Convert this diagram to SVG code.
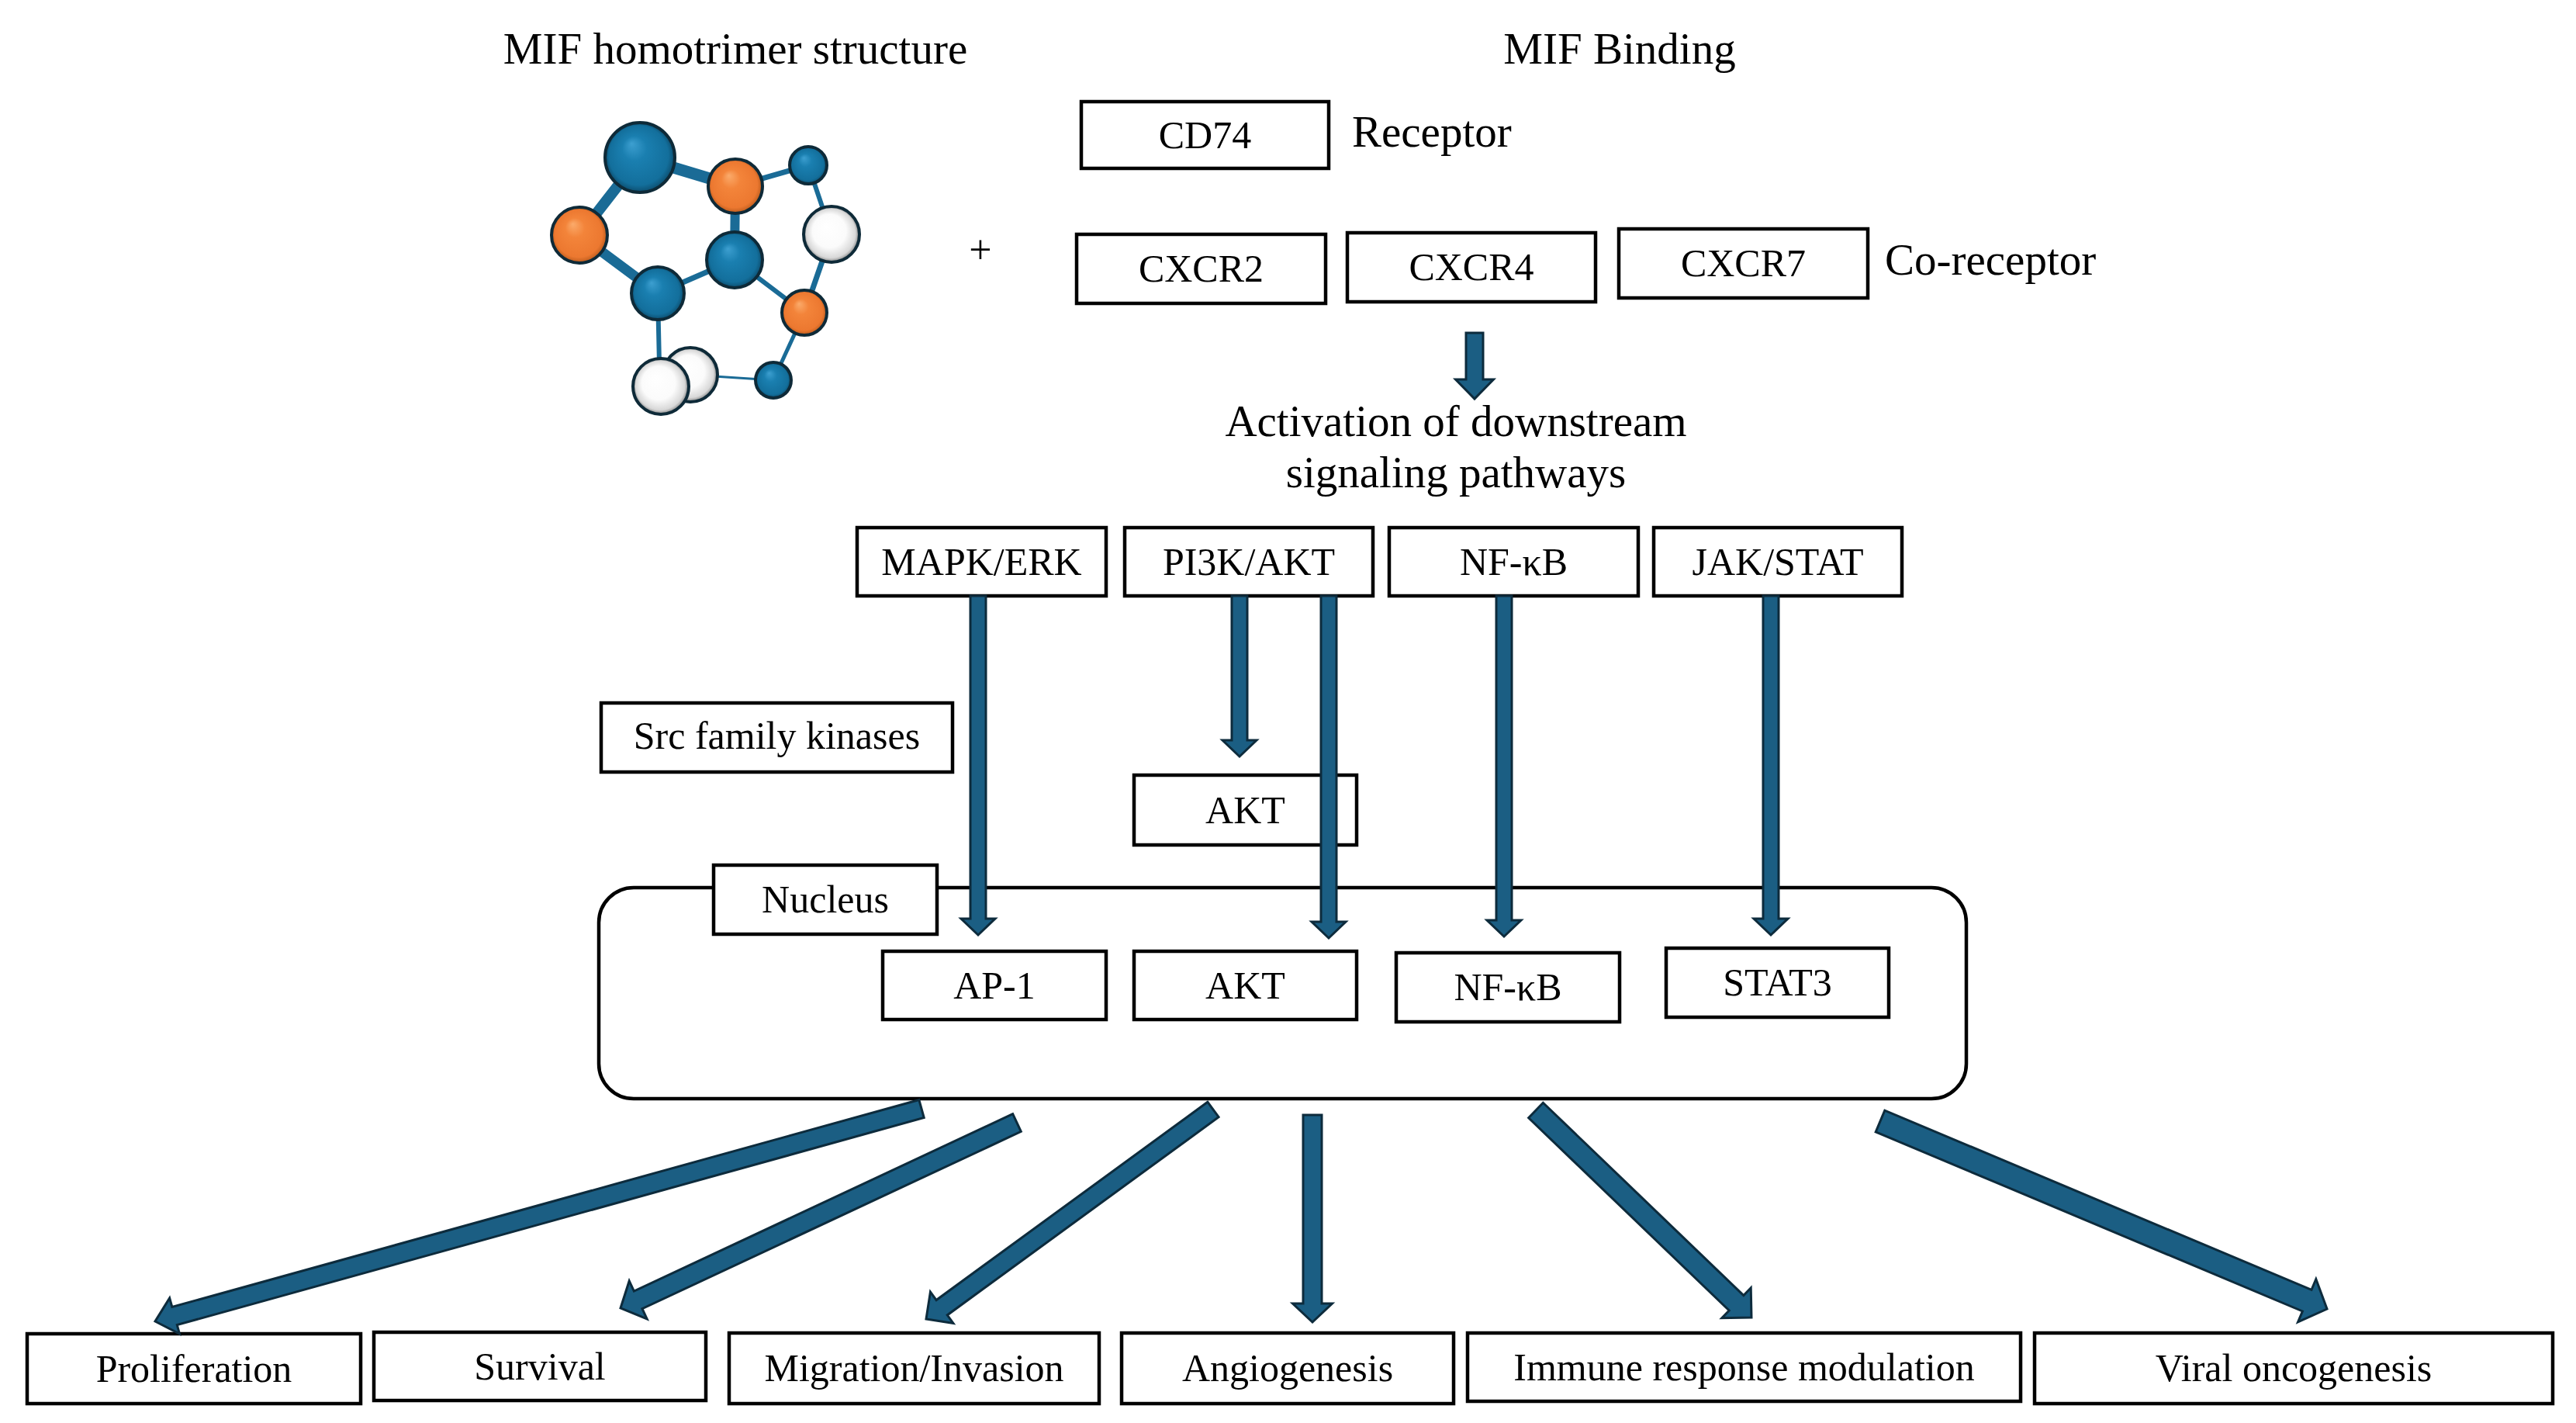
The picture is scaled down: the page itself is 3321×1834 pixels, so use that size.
<svg xmlns="http://www.w3.org/2000/svg" width="3321" height="1834" viewBox="0 0 3321 1834">
<style>
.box{fill:#fff;stroke:#000;stroke-width:4.5}
.t{font-family:"Liberation Serif","Times New Roman",serif;font-size:50px;text-anchor:middle;fill:#000}
.tl{font-family:"Liberation Serif","Times New Roman",serif;font-size:57px;fill:#000}
.arr{fill:#1b5e83;stroke:#0d2b3c;stroke-width:3;stroke-linejoin:miter}
.bond{stroke:#1a6b96;stroke-linecap:round}
.atom{stroke:#0e2a38;stroke-width:4}
</style>
<defs>
<radialGradient id="gBlue" cx="0.5" cy="0.5" r="0.5" fx="0.38" fy="0.3">
<stop offset="0" stop-color="#3d9fd0"/><stop offset="0.35" stop-color="#1a7fb0"/><stop offset="0.85" stop-color="#136f9c"/><stop offset="1" stop-color="#0c4d6e"/>
</radialGradient>
<radialGradient id="gOrange" cx="0.5" cy="0.5" r="0.5" fx="0.38" fy="0.3">
<stop offset="0" stop-color="#fbab6b"/><stop offset="0.35" stop-color="#f3843a"/><stop offset="0.85" stop-color="#ec7830"/><stop offset="1" stop-color="#b85a1c"/>
</radialGradient>
<radialGradient id="gWhite" cx="0.5" cy="0.5" r="0.5" fx="0.4" fy="0.35">
<stop offset="0" stop-color="#ffffff"/><stop offset="0.6" stop-color="#fbfbfb"/><stop offset="0.88" stop-color="#d8d8d8"/><stop offset="1" stop-color="#7d7d7d"/>
</radialGradient>
</defs>
<rect width="3321" height="1834" fill="#fff"/>

<g id="titles">
<text class="tl" x="948" y="82" text-anchor="middle">MIF homotrimer structure</text>
<text class="tl" x="2088" y="82" text-anchor="middle">MIF Binding</text>
<text class="tl" x="1743" y="189">Receptor</text>
<text class="tl" x="2430" y="354">Co-receptor</text>
<text class="tl" x="1877" y="562" text-anchor="middle">Activation of downstream</text>
<text class="tl" x="1877" y="628" text-anchor="middle">signaling pathways</text>
<text class="t" x="1264" y="339" style="font-size:52px">+</text>
</g>

<g id="molecule">
<g class="bond">
<line x1="825" y1="203" x2="948" y2="240" stroke-width="15"/>
<line x1="825" y1="203" x2="747" y2="303" stroke-width="14"/>
<line x1="747" y1="303" x2="848" y2="378" stroke-width="13"/>
<line x1="948" y1="240" x2="947" y2="335" stroke-width="12"/>
<line x1="948" y1="240" x2="1042" y2="213" stroke-width="7"/>
<line x1="1042" y1="213" x2="1072" y2="302" stroke-width="6"/>
<line x1="1072" y1="302" x2="1037" y2="403" stroke-width="7"/>
<line x1="947" y1="335" x2="1037" y2="403" stroke-width="6"/>
<line x1="848" y1="378" x2="947" y2="335" stroke-width="7"/>
<line x1="848" y1="378" x2="850" y2="470" stroke-width="6"/>
<line x1="1037" y1="403" x2="997" y2="490" stroke-width="5"/>
<line x1="890" y1="483" x2="997" y2="490" stroke-width="3"/>
</g>
<circle class="atom" cx="825" cy="203" r="45" fill="url(#gBlue)"/>
<circle class="atom" cx="948" cy="240" r="35" fill="url(#gOrange)"/>
<circle class="atom" cx="1042" cy="213" r="24" fill="url(#gBlue)"/>
<circle class="atom" cx="1072" cy="302" r="36" fill="url(#gWhite)"/>
<circle class="atom" cx="747" cy="303" r="36" fill="url(#gOrange)"/>
<circle class="atom" cx="947" cy="335" r="36" fill="url(#gBlue)"/>
<circle class="atom" cx="848" cy="378" r="34" fill="url(#gBlue)"/>
<circle class="atom" cx="1037" cy="403" r="29" fill="url(#gOrange)"/>
<circle class="atom" cx="997" cy="490" r="23" fill="url(#gBlue)"/>
<circle class="atom" cx="890" cy="483" r="35" fill="url(#gWhite)"/>
<circle class="atom" cx="852" cy="498" r="36" fill="url(#gWhite)"/>
</g>

<g id="CD74"><rect class="box" x="1394" y="131" width="319" height="86"/><text class="t" x="1553.5" y="191">CD74</text></g>
<g id="CXCR2"><rect class="box" x="1388" y="302" width="321" height="89"/><text class="t" x="1548.5" y="363">CXCR2</text></g>
<g id="CXCR4"><rect class="box" x="1737" y="300" width="320" height="89"/><text class="t" x="1897" y="361">CXCR4</text></g>
<g id="CXCR7"><rect class="box" x="2087" y="295" width="321" height="89"/><text class="t" x="2247.5" y="356">CXCR7</text></g>

<g id="MAPK"><rect class="box" x="1105" y="680" width="321" height="88"/><text class="t" x="1265.5" y="741">MAPK/ERK</text></g>
<g id="PI3K"><rect class="box" x="1450" y="680" width="320" height="88"/><text class="t" x="1610" y="741">PI3K/AKT</text></g>
<g id="NFkB"><rect class="box" x="1791" y="680" width="321" height="88"/><text class="t" x="1951.5" y="741">NF-κB</text></g>
<g id="JAKSTAT"><rect class="box" x="2132" y="680" width="320" height="88"/><text class="t" x="2292" y="741">JAK/STAT</text></g>

<g id="Src"><rect class="box" x="775" y="906" width="453" height="89"/><text class="t" x="1001.5" y="965">Src family kinases</text></g>
<g id="AKT-cyto"><rect class="box" x="1462" y="999" width="287" height="90"/><text class="t" x="1605.5" y="1061">AKT</text></g>

<g id="Nucleus">
<rect class="box" x="772" y="1144" width="1763" height="272" rx="45" ry="45"/>
<rect class="box" x="920" y="1115" width="288" height="89"/><text class="t" x="1064" y="1176">Nucleus</text>
</g>
<g id="AP1"><rect class="box" x="1138" y="1226" width="288" height="88"/><text class="t" x="1282" y="1287">AP-1</text></g>
<g id="AKT-nuc"><rect class="box" x="1462" y="1226" width="287" height="88"/><text class="t" x="1605.5" y="1287">AKT</text></g>
<g id="NFkB-nuc"><rect class="box" x="1800" y="1228" width="288" height="89"/><text class="t" x="1944" y="1289">NF-κB</text></g>
<g id="STAT3"><rect class="box" x="2148" y="1222" width="287" height="89"/><text class="t" x="2291.5" y="1283">STAT3</text></g>

<g id="Proliferation"><rect class="box" x="35" y="1719" width="430" height="90"/><text class="t" x="250" y="1781">Proliferation</text></g>
<g id="Survival"><rect class="box" x="482" y="1717" width="428" height="88"/><text class="t" x="696" y="1778">Survival</text></g>
<g id="Migration"><rect class="box" x="940" y="1718" width="477" height="91"/><text class="t" x="1178.5" y="1780">Migration/Invasion</text></g>
<g id="Angiogenesis"><rect class="box" x="1446" y="1718" width="428" height="91"/><text class="t" x="1660" y="1780">Angiogenesis</text></g>
<g id="Immune"><rect class="box" x="1892" y="1718" width="713" height="88"/><text class="t" x="2248.5" y="1779">Immune response modulation</text></g>
<g id="Viral"><rect class="box" x="2623" y="1718" width="668" height="91"/><text class="t" x="2957" y="1780">Viral oncogenesis</text></g>

<g id="connectors">
<path class="arr" d="M1890,429 V489 H1876.5 L1901,514 L1925.5,489 H1912 V429 Z"/>
<path class="arr" d="M1251,768 V1184 H1239 L1261,1205 L1283,1184 H1271 V768 Z"/>
<path class="arr" d="M1588,768 V954 H1576 L1598,975 L1620,954 H1608 V768 Z"/>
<path class="arr" d="M1703,768 V1188 H1691 L1713,1209 L1735,1188 H1723 V768 Z"/>
<path class="arr" d="M1929,768 V1186 H1917 L1939,1207 L1961,1186 H1949 V768 Z"/>
<path class="arr" d="M2273,768 V1184 H2261 L2283,1205 L2305,1184 H2293 V768 Z"/>

<polygon class="arr" points="1184.79,1417.44 221.84,1684.49 218.64,1672.92 200,1703 231.46,1719.18 228.26,1707.61 1191.21,1440.56"/>
<polygon class="arr" points="1305.70,1435.68 817.35,1664.09 811.21,1650.95 800,1686 834.09,1699.87 827.95,1686.73 1316.30,1458.32"/>
<polygon class="arr" points="1556.93,1420.31 1207.12,1675.57 1199.45,1665.06 1194,1700 1228.93,1705.46 1221.26,1694.95 1571.07,1439.69"/>
<polygon class="arr" points="1680,1437 1680,1680 1666.5,1680 1692,1704 1717.5,1680 1704,1680 1704,1437"/>
<polygon class="arr" points="1970.65,1440.74 2229.18,1689.04 2219.83,1698.77 2258,1698 2257.23,1659.83 2247.88,1669.56 1989.35,1421.26"/>
<polygon class="arr" points="2418.19,1458.83 2968.38,1689.99 2962.57,1703.82 3000,1687 2985.81,1648.50 2980.00,1662.33 2429.81,1431.17"/>
</g>
</svg>
